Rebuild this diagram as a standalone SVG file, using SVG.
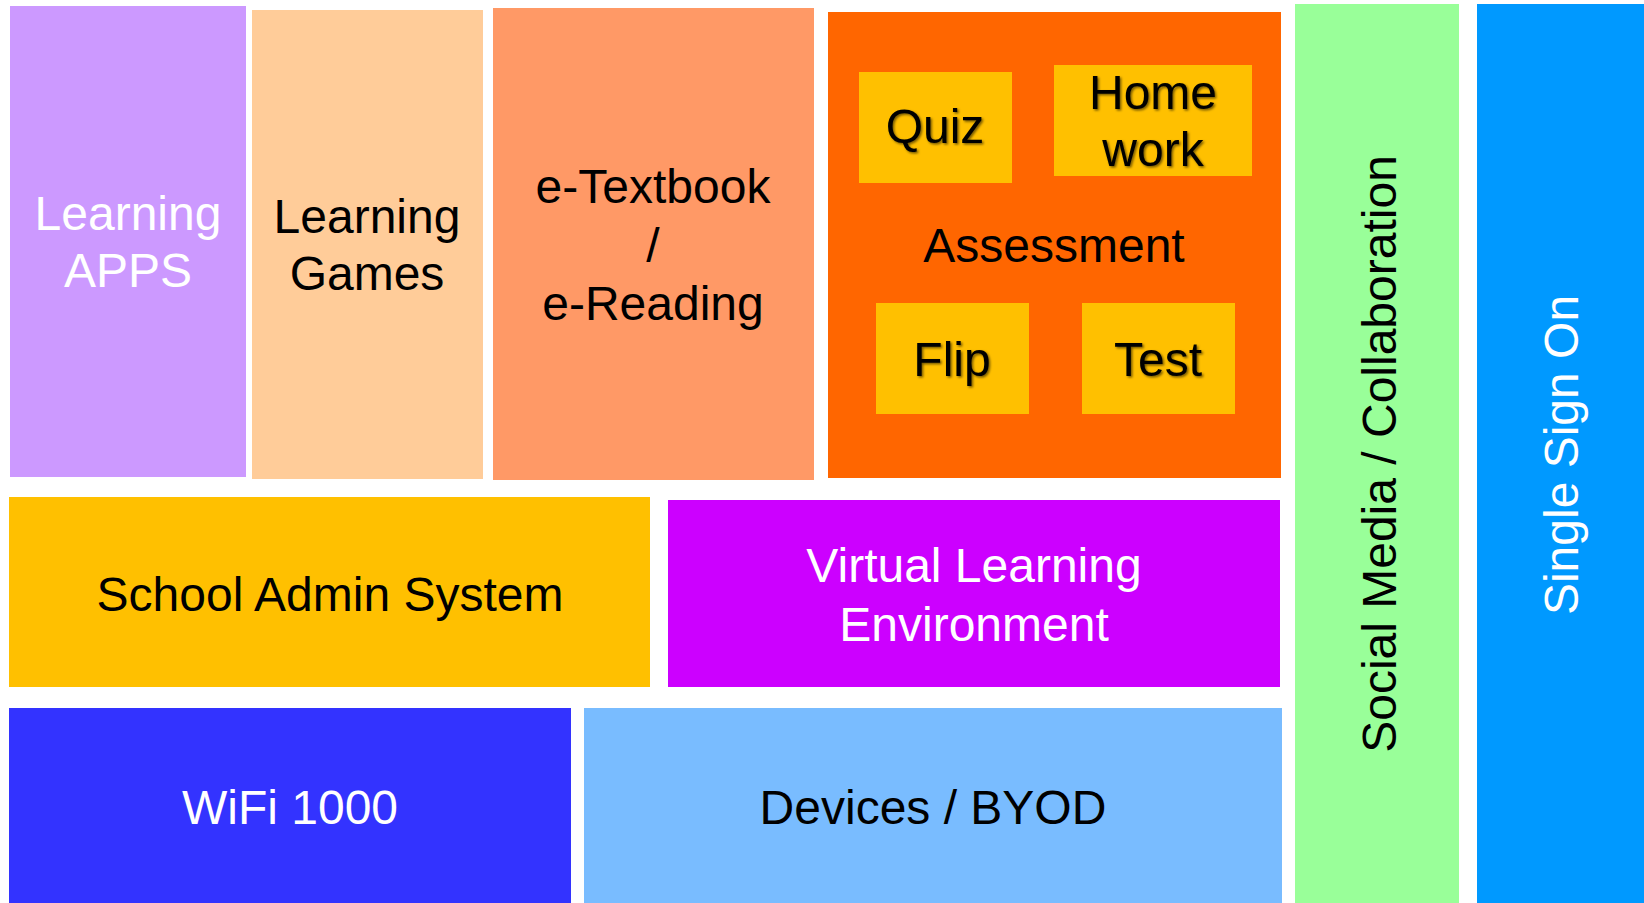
<svg xmlns="http://www.w3.org/2000/svg" width="1644" height="903" viewBox="0 0 1644 903">
<style>
  text { font-family: "Liberation Sans", Arial, sans-serif; font-size: 48px; text-anchor: middle; }
  .w { fill: #FFFFFF; }
  .k { fill: #000000; }
  .sh { filter: url(#ts); }
</style>
<defs>
  <filter id="ts" x="-20%" y="-20%" width="140%" height="140%">
    <feDropShadow dx="1.5" dy="1.5" stdDeviation="1" flood-color="#000000" flood-opacity="0.55"/>
  </filter>
</defs>
<rect x="0" y="0" width="1644" height="903" fill="#FFFFFF"/>
<g id="learning-apps">
  <rect x="10" y="6" width="236" height="471" fill="#CC99FF"/>
  <text class="w" x="128" y="230">Learning</text>
  <text class="w" x="128" y="287">APPS</text>
</g>
<g id="learning-games">
  <rect x="252" y="10" width="231" height="469" fill="#FFCC99"/>
  <text class="k" x="367" y="233">Learning</text>
  <text class="k" x="367" y="290">Games</text>
</g>
<g id="etextbook">
  <rect x="493" y="8" width="321" height="472" fill="#FF9966"/>
  <text class="k" x="653" y="203">e-Textbook</text>
  <text class="k" x="653" y="262">/</text>
  <text class="k" x="653" y="320">e-Reading</text>
</g>
<g id="assessment">
  <rect x="828" y="12" width="453" height="466" fill="#FF6600"/>
  <text class="k" x="1054" y="262">Assessment</text>
</g>
<g id="quiz">
  <rect x="859" y="72" width="153" height="111" fill="#FFC000"/>
  <text class="k sh" x="935" y="143">Quiz</text>
</g>
<g id="homework">
  <rect x="1054" y="65" width="198" height="111" fill="#FFC000"/>
  <text class="k sh" x="1153" y="109">Home</text>
  <text class="k sh" x="1153" y="166">work</text>
</g>
<g id="flip">
  <rect x="876" y="303" width="153" height="111" fill="#FFC000"/>
  <text class="k sh" x="952" y="376">Flip</text>
</g>
<g id="test">
  <rect x="1082" y="303" width="153" height="111" fill="#FFC000"/>
  <text class="k sh" x="1158" y="376">Test</text>
</g>
<g id="school-admin">
  <rect x="9" y="497" width="641" height="190" fill="#FFC000"/>
  <text class="k" x="330" y="611">School Admin System</text>
</g>
<g id="vle">
  <rect x="668" y="500" width="612" height="187" fill="#CC00FF"/>
  <text class="w" x="974" y="582">Virtual Learning</text>
  <text class="w" x="974" y="641">Environment</text>
</g>
<g id="wifi">
  <rect x="9" y="708" width="562" height="195" fill="#3333FF"/>
  <text class="w" x="290" y="824">WiFi 1000</text>
</g>
<g id="devices">
  <rect x="584" y="708" width="698" height="195" fill="#79BCFF"/>
  <text class="k" x="933" y="824">Devices / BYOD</text>
</g>
<g id="social-media">
  <rect x="1295" y="4" width="164" height="899" fill="#99FF99"/>
  <text class="k" transform="translate(1396 454) rotate(-90)" x="0" y="0">Social Media / Collaboration</text>
</g>
<g id="single-sign-on">
  <rect x="1477" y="4" width="167" height="899" fill="#0099FF"/>
  <text class="w" transform="translate(1578 455) rotate(-90)" x="0" y="0">Single Sign On</text>
</g>
<g id="connectors"></g>
</svg>
